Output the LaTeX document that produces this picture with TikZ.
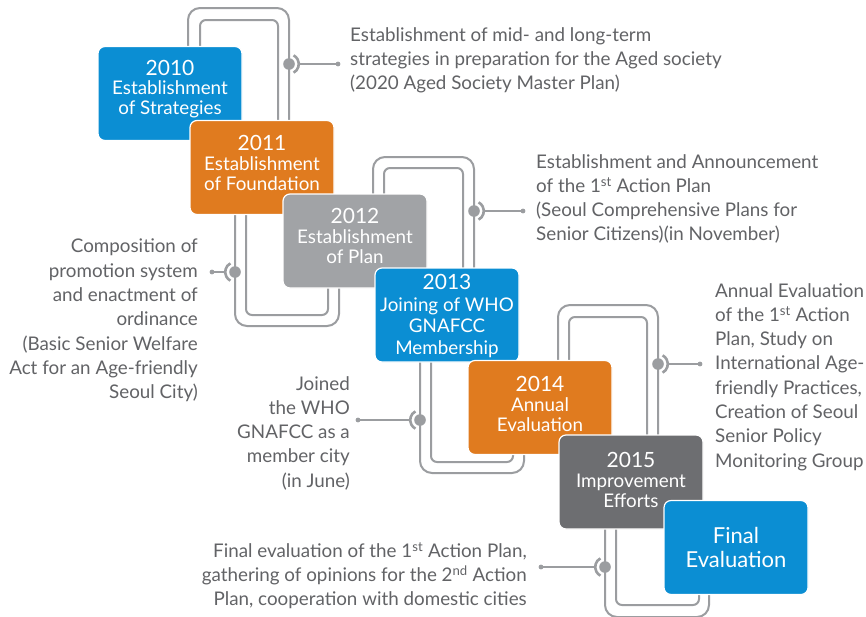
\documentclass[tikz,border=0pt]{standalone}
\usepackage{fontspec}
\setmainfont{Lato}
\definecolor{cblue}{HTML}{0B8ED3}
\definecolor{corange}{HTML}{E07B1F}
\definecolor{clgrey}{HTML}{A1A3A6}
\definecolor{cdgrey}{HTML}{6D6E71}
\definecolor{cline}{HTML}{9B9DA0}
\definecolor{ctext}{HTML}{626366}
\newcommand\yrfont{\fontsize{21}{22}\selectfont}
\begin{document}
\begin{tikzpicture}[x=1pt,y=-1pt,
  loopo/.style={draw=cline,line width=2pt,rounded corners=12pt},
  loopi/.style={draw=cline,line width=2pt,rounded corners=6pt},
  box/.style={rounded corners=7pt,minimum width=144pt,minimum height=94pt,draw=white,line width=1.2pt,inner sep=0pt},
  boxtext/.style={text=white,align=center,font=\fontsize{18.8}{19.6}\selectfont,inner sep=0pt},
  side/.style={text=ctext,font=\fontsize{18.8}{24.3}\selectfont,inner sep=0pt},
  conn/.style={draw=cline,line width=2pt}]
\useasboundingbox (0,0) rectangle (866,616);
\fill[white] (0,0) rectangle (866,616);
\begin{scope}
\clip (0,0) rectangle (866,616);
% loop 1
\draw[loopo] (188,70) -- (188,8) -- (289,8) -- (289,135);
\draw[loopi] (200,70) -- (200,20) -- (278,20) -- (278,135);
% loop 2
\draw[loopo] (235,200) -- (235,326) -- (339,326) -- (339,250);
\draw[loopi] (246,200) -- (246,315) -- (328,315) -- (328,250);
% loop 3
\draw[loopo] (373,220) -- (373,157) -- (474,157) -- (474,285);
\draw[loopi] (384,220) -- (384,168) -- (463,168) -- (463,285);
% loop 4
\draw[loopo] (420,350) -- (420,473) -- (524,473) -- (524,440);
\draw[loopi] (431,350) -- (431,462) -- (513,462) -- (513,440);
% loop 5
\draw[loopo] (558,380) -- (558,305) -- (658,305) -- (658,450);
\draw[loopi] (569,380) -- (569,317) -- (647,317) -- (647,450);
% loop 6
\draw[loopo] (605,520) -- (605,617) -- (709,617) -- (709,580);
\draw[loopi] (616,520) -- (616,605) -- (699,605) -- (699,580);
\end{scope}
% knobs and connectors
\coordinate (k1) at (289,64);  \coordinate (e1) at (338,64);
\coordinate (k2) at (235,272); \coordinate (e2) at (212,272);
\coordinate (k3) at (474,211); \coordinate (e3) at (523,211);
\coordinate (k4) at (420,420); \coordinate (e4) at (358,420);
\coordinate (k5) at (658,364); \coordinate (e5) at (700,364);
\coordinate (k6) at (605,567); \coordinate (e6) at (541,567);
\foreach \k/\e in {k1/e1,k3/e3,k5/e5}{
  \draw[conn] ([xshift=9pt]\k) -- (\e);
  \fill[cline] (\k) circle[radius=5.8pt];
  \draw[conn,line width=2.6pt] (\k) ++(-62:9.8pt) arc[start angle=-62,end angle=62,radius=9.8pt];
  \fill[cline] (\e) circle[radius=2.4pt];
}
\foreach \k/\e in {k2/e2,k4/e4,k6/e6}{
  \draw[conn] ([xshift=-9pt]\k) -- (\e);
  \fill[cline] (\k) circle[radius=5.8pt];
  \draw[conn,line width=2.6pt] (\k) ++(118:9.8pt) arc[start angle=118,end angle=242,radius=9.8pt];
  \fill[cline] (\e) circle[radius=2.4pt];
}
% boxes
\node[box,fill=cblue,label={[boxtext,yshift=4.5pt]center:{{\yrfont 2010}\\Establishment\\of Strategies}}] (b2010) at (170,93.5) {};
\node[box,fill=corange,label={[boxtext,yshift=4.5pt]center:{{\yrfont 2011}\\Establishment\\of Foundation}}] (b2011) at (262,167.5) {};
\node[box,fill=clgrey,label={[boxtext,yshift=5pt]center:{{\yrfont 2012}\\Establishment\\of Plan}}] (b2012) at (355,241) {};
\node[box,fill=cblue,label={[boxtext,font=\fontsize{18.8}{21.5}\selectfont,yshift=-1pt]center:{{\yrfont 2013}\\Joining of WHO\\GNAFCC\\Membership}}] (b2013) at (447,315) {};
\node[box,fill=corange,label={[boxtext,yshift=3.5pt]center:{{\yrfont 2014}\\Annual\\Evaluation}}] (b2014) at (540,407.5) {};
\node[box,fill=cdgrey,label={[boxtext,yshift=2pt]center:{{\yrfont 2015}\\Improvement\\Efforts}}] (b2015) at (631,482) {};
\node[box,fill=cblue,label={[boxtext,font=\fontsize{22}{24}\selectfont]center:{Final\\Evaluation}}] (bfin) at (736,547.5) {};
% side texts
\node[side,anchor=north west,align=left] (t1) at (350,27) {Establishment of mid- and long-term\\strategies in preparation for the Aged society\\(2020 Aged Society Master Plan)};
\node[side,anchor=north west,align=left] (t3) at (536,154) {Establishment and Announcement\\of the 1\textsuperscript{st} Action Plan\\(Seoul Comprehensive Plans for\\Senior Citizens)(in November)};
\node[side,anchor=north east,align=right] (t2) at (198,239) {Composition of\\promotion system\\and enactment of\\ordinance\\(Basic Senior Welfare\\Act for an Age-friendly\\Seoul City)};
\node[side,anchor=north east,align=right] (t4) at (350,376) {Joined\\the WHO\\GNAFCC as a\\member city\\(in June)};
\node[side,anchor=north west,align=left] (t5) at (715,283) {Annual Evaluation\\of the 1\textsuperscript{st} Action\\Plan, Study on\\International Age-\\friendly Practices,\\Creation of Seoul\\Senior Policy\\Monitoring Group};
\node[side,anchor=north east,align=right] (t6) at (527,542) {Final evaluation of the 1\textsuperscript{st} Action Plan,\\gathering of opinions for the 2\textsuperscript{nd} Action\\Plan, cooperation with domestic cities};
\end{tikzpicture}
\end{document}
